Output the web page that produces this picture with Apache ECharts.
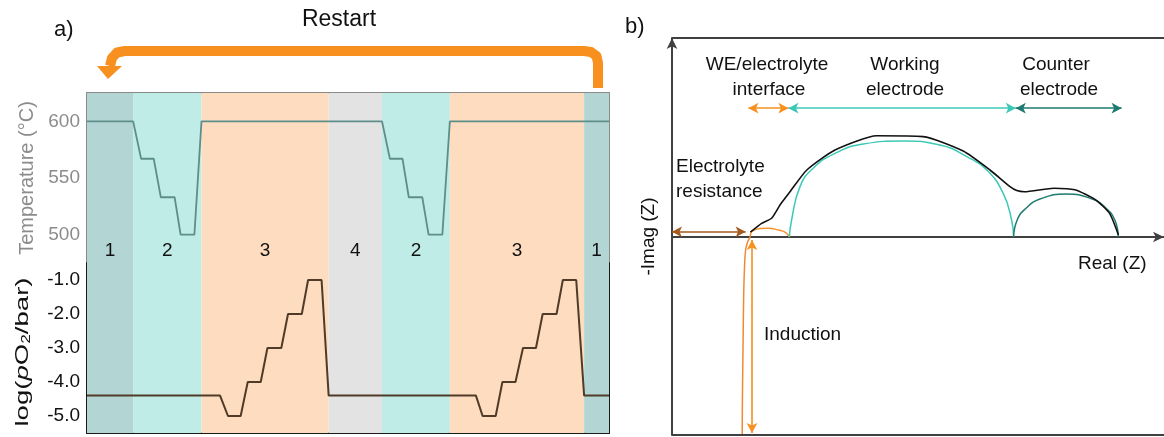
<!DOCTYPE html>
<html><head><meta charset="utf-8">
<script src="https://cdn.jsdelivr.net/npm/echarts@6/dist/echarts.min.js"></script>
<style>html,body{margin:0;padding:0;background:#fff}#c{width:1164px;height:437px}</style>
</head><body><div id="c"></div>
<script>
// ---------- panel a) data ----------
const regionNames = ['1', '2', '3', '4', '2', '3', '1'];
const regionStart = [0, 46.2, 114.6, 241.9, 295.3, 363.2, 497.6];
const regionEnd = [46.2, 114.6, 241.9, 295.3, 363.2, 497.6, 522.5];
const tempTime = [0, 46.2, 54.2, 66.8, 73.9, 87.7, 93.7, 107.5, 114.6, 295.3, 303.2, 315.8, 322.1, 335.6, 341.9, 355.7, 363.2, 522.5];
const tempValue = [600, 600, 567, 567, 533, 533, 500, 500, 600, 600, 567, 567, 533, 533, 500, 500, 600, 600];
const po2Time = [0, 133.2, 141.1, 153.8, 160.9, 173.9, 180.6, 194.5, 201.2, 215.0, 221.3, 234.8, 241.9, 389.3, 396.0, 409.1, 415.8, 428.9, 436.4, 449.4, 456.1, 470.0, 476.3, 489.7, 497.6, 522.5];
const po2Value = [-4.4, -4.4, -5, -5, -4, -4, -3, -3, -2, -2, -1, -1, -4.4, -4.4, -5, -5, -4, -4, -3, -3, -2, -2, -1, -1, -4.4, -4.4];
const tempTicks = [500, 550, 600];

// ---------- panel b) data ----------
const totalRe = [19.6, 22.4, 24.9, 27.0, 29.5, 33.7, 40.75, 51.2, 62.8, 72.8, 79.5, 84.5, 86.2, 88.1, 95.5, 100.7, 105.9, 109.4, 111.6];
const totalIm = [1.2, 3.4, 4.7, 8.0, 11.3, 16.75, 21.75, 25.3, 25.1, 21.5, 16.75, 12.6, 11.6, 11.3, 12.2, 11.8, 9.3, 5.9, 0.5];
const interfaceRe = [19.7, 20.3, 22.0, 24.1, 26.6, 28.25, 29.35];
const interfaceIm = [1.0, 1.6, 2.1, 2.2, 1.75, 1.2, 0];
const inductionRe = [17.55, 17.6, 17.75, 17.9, 18.1, 18.4, 18.9, 19.4, 19.7];
const inductionIm = [-49.5, -40.75, -28.25, -15.75, -8.25, -3.25, -1.25, -0.25, 1.0];
const workingRe = [29.35, 29.9, 32.0, 35.3, 40.75, 47.8, 57.8, 67.0, 73.7, 78.7, 82.8, 84.9, 85.4];
const workingIm = [0, 4.25, 12.6, 17.2, 20.9, 23.25, 24.0, 23.0, 20.1, 16.75, 10.9, 4.25, 0];
const counterRe = [85.4, 86.3, 88.5, 92.0, 98.55, 105.05, 108.5, 110.7, 111.6];
const counterIm = [0, 4.25, 7.2, 9.5, 10.75, 9.5, 7.2, 4.25, 0];
// arrow spans [x1, y1, x2, y2] in (Re, -Im) units
const resistanceArrow = [0, 1.3, 18.4, 1.3];
const inductionArrow = [20, -0.75, 20, -49];
const interfaceArrow = [19.1, 32.2, 29.1, 32.2];
const workingArrow = [29.1, 32.2, 85.95, 32.2];
const counterArrow = [85.95, 32.2, 112.4, 32.2];

// ---------- styles ----------
const FONT = 'Liberation Sans, Arial, sans-serif';
const regionColor = { '1': '#b3d6d4', '2': '#bfece6', '3': '#fddcbf', '4': '#e3e3e3' };
const GREY = '#8a8a8a', BLACK = '#1a1a1a', ORANGE = '#f7901e', BROWN = '#a45a1c',
      TEAL = '#3cc8b6', DTEAL = '#1d7a70', AX = '#404040';

const zip = (a, b) => a.map((v, i) => [v, b[i]]);
const areas = (withLabel) => regionNames.map((n, i) => [
  { xAxis: regionStart[i], name: n, itemStyle: { color: regionColor[n] },
    label: withLabel ? { show: true, position: 'insideBottom', distance: 3, formatter: n,
      color: '#111', fontSize: 19, fontFamily: FONT } : { show: false } },
  { xAxis: regionEnd[i] }
]);
const arrowItem = (a, color) => [
  { coord: [a[0], a[1]], lineStyle: { color, width: 1.6, type: 'solid' }, itemStyle: { color } },
  { coord: [a[2], a[3]] }
];

const chart = echarts.init(document.getElementById('c'), null, { renderer: 'canvas' });
const sideAxis = (grid, min, max, interval, color, pos, fmt, name, nameStyle) => ({
  type: 'value', gridIndex: grid, min, max, interval, position: pos,
  axisLine: { show: true, lineStyle: { color, width: 2 } },
  axisTick: { show: true, inside: true, length: 5, lineStyle: { color, width: 1.5 } },
  axisLabel: fmt ? { show: true, formatter: fmt, color: color === GREY ? '#8c8c8c' : '#111', fontSize: 19, fontFamily: FONT, margin: 7 } : { show: false },
  splitLine: { show: false },
  name: name || '', nameLocation: 'middle', nameGap: 50, nameTextStyle: nameStyle
});

chart.setOption({
  animation: false,
  grid: [
    { left: 87, top: 93, width: 522, height: 170 },
    { left: 87, top: 263, width: 522, height: 170 },
    { left: 672, top: 38, right: 0, height: 397 }
  ],
  xAxis: [
    { type: 'value', gridIndex: 0, min: 0, max: 522.5, position: 'top',
      axisLine: { show: true, lineStyle: { color: GREY, width: 2 } }, axisTick: { show: false }, axisLabel: { show: false }, splitLine: { show: false } },
    { type: 'value', gridIndex: 1, min: 0, max: 522.5, position: 'bottom',
      axisLine: { show: true, lineStyle: { color: BLACK, width: 2 } }, axisTick: { show: false }, axisLabel: { show: false }, splitLine: { show: false } },
    { type: 'value', gridIndex: 2, min: 0, max: 123,
      axisLine: { show: true, onZero: true, symbol: ['none', 'arrow'], symbolSize: [8, 11], lineStyle: { color: AX, width: 2 } },
      axisTick: { show: false }, axisLabel: { show: false }, splitLine: { show: false } }
  ],
  yAxis: [
    sideAxis(0, 475, 625, 25, GREY, 'left', v => tempTicks.includes(v) ? String(v) : '',
      'Temperature (°C)', { color: '#8c8c8c', fontSize: 20, fontFamily: FONT }),
    sideAxis(0, 475, 625, 25, GREY, 'right', null),
    sideAxis(1, -5.5, -0.5, 0.5, BLACK, 'left', v => (Math.abs(v - Math.round(v)) < 1e-9 && v <= -1) ? v.toFixed(1) : ''),
    sideAxis(1, -5.5, -0.5, 0.5, BLACK, 'right', null),
    { type: 'value', gridIndex: 2, min: -49.5, max: 49.75, position: 'left',
      axisLine: { show: true, onZero: false, symbol: ['none', 'arrow'], symbolSize: [8, 11], lineStyle: { color: AX, width: 2 } },
      axisTick: { show: false }, axisLabel: { show: false }, splitLine: { show: false },
      name: '-Imag (Z)', nameLocation: 'middle', nameGap: 14,
      nameTextStyle: { color: '#111', fontSize: 19, fontFamily: FONT } }
  ],
  series: [
    { type: 'line', xAxisIndex: 0, yAxisIndex: 0, data: zip(tempTime, tempValue), showSymbol: false, silent: true,
      lineStyle: { color: '#5e8e8a', width: 1.8 }, z: 3,
      markArea: { silent: true, data: areas(true) } },
    { type: 'line', xAxisIndex: 1, yAxisIndex: 2, data: zip(po2Time, po2Value), showSymbol: false, silent: true,
      lineStyle: { color: '#4f3b28', width: 2 }, z: 3,
      markArea: { silent: true, data: areas(false) } },
    // panel b
    { type: 'line', xAxisIndex: 2, yAxisIndex: 4, data: zip(inductionRe, inductionIm), showSymbol: false, silent: true,
      smooth: 0.4, lineStyle: { color: '#ee8a34', width: 1.5 } },
    { type: 'line', xAxisIndex: 2, yAxisIndex: 4, data: zip(interfaceRe, interfaceIm), showSymbol: false, silent: true,
      smooth: 0.5, lineStyle: { color: '#f5922e', width: 1.5 } },
    { type: 'line', xAxisIndex: 2, yAxisIndex: 4, data: zip(workingRe, workingIm), showSymbol: false, silent: true,
      smooth: 0.5, lineStyle: { color: TEAL, width: 1.5 } },
    { type: 'line', xAxisIndex: 2, yAxisIndex: 4, data: zip(counterRe, counterIm), showSymbol: false, silent: true,
      smooth: 0.5, lineStyle: { color: DTEAL, width: 1.5 } },
    { type: 'line', xAxisIndex: 2, yAxisIndex: 4, data: zip(totalRe, totalIm), showSymbol: false, silent: true,
      smooth: 0.2, lineStyle: { color: '#111', width: 1.6 },
      markLine: { silent: true, symbol: ['arrow', 'arrow'], symbolSize: [8, 10], label: { show: false },
        data: [
          arrowItem(resistanceArrow, BROWN),
          arrowItem(inductionArrow, ORANGE),
          arrowItem(interfaceArrow, ORANGE),
          arrowItem(workingArrow, TEAL),
          arrowItem(counterArrow, DTEAL)
        ] } },
    { type: 'line', xAxisIndex: 2, yAxisIndex: 4, data: [], silent: true,
      markLine: { silent: true, symbol: ['none', 'none'], label: { show: false },
        lineStyle: { color: AX, width: 2, type: 'solid' },
        data: [{ yAxis: 49.75 }, { yAxis: -49.5 }] } }
  ],
  graphic: [
    { type: 'text', x: 54, y: 30, style: { text: 'a)', fontSize: 22, fontFamily: FONT, fill: '#111', verticalAlign: 'middle' } },
    { type: 'text', x: 339, y: 20, style: { text: 'Restart', fontSize: 23, fontFamily: FONT, fill: '#111', align: 'center', verticalAlign: 'middle' } },
    { type: 'text', x: 625, y: 27, style: { text: 'b)', fontSize: 22, fontFamily: FONT, fill: '#111', verticalAlign: 'middle' } },
    { type: 'text', x: 23, y: 352, rotation: Math.PI / 2, scaleX: 1.45,
      style: { text: 'log({i|p}O{s|2}/bar)', fontSize: 19, fontFamily: FONT, fill: '#111', align: 'center', verticalAlign: 'middle',
        rich: { i: { fontStyle: 'italic', fontSize: 19, fontFamily: FONT, fill: '#111' },
                s: { fontSize: 12, fontFamily: FONT, fill: '#111', verticalAlign: 'bottom', padding: [8, 0, 0, 0] } } } },
    { type: 'polyline', shape: { points: [[598, 88], [598, 63], [596.5, 56], [591, 52], [584, 51], [125, 51], [117, 52.5], [112, 58], [110, 66]] },
      style: { fill: null, stroke: ORANGE, lineWidth: 10, lineJoin: 'round' } },
    { type: 'polygon', shape: { points: [[97, 66], [122, 66], [108, 79]] }, style: { fill: ORANGE } },
    { type: 'text', x: 767, y: 65, style: { text: 'WE/electrolyte', fontSize: 19, fontFamily: FONT, fill: '#111', align: 'center', verticalAlign: 'middle' } },
    { type: 'text', x: 769, y: 90, style: { text: 'interface', fontSize: 19, fontFamily: FONT, fill: '#111', align: 'center', verticalAlign: 'middle' } },
    { type: 'text', x: 905, y: 65, style: { text: 'Working', fontSize: 19, fontFamily: FONT, fill: '#111', align: 'center', verticalAlign: 'middle' } },
    { type: 'text', x: 905, y: 90, style: { text: 'electrode', fontSize: 19, fontFamily: FONT, fill: '#111', align: 'center', verticalAlign: 'middle' } },
    { type: 'text', x: 1056, y: 65, style: { text: 'Counter', fontSize: 19, fontFamily: FONT, fill: '#111', align: 'center', verticalAlign: 'middle' } },
    { type: 'text', x: 1059, y: 90, style: { text: 'electrode', fontSize: 19, fontFamily: FONT, fill: '#111', align: 'center', verticalAlign: 'middle' } },
    { type: 'text', x: 676, y: 167, style: { text: 'Electrolyte', fontSize: 19, fontFamily: FONT, fill: '#111', verticalAlign: 'middle' } },
    { type: 'text', x: 676, y: 192, style: { text: 'resistance', fontSize: 19, fontFamily: FONT, fill: '#111', verticalAlign: 'middle' } },
    { type: 'text', x: 764, y: 335, style: { text: 'Induction', fontSize: 19, fontFamily: FONT, fill: '#111', verticalAlign: 'middle' } },
    { type: 'text', x: 1078, y: 264, style: { text: 'Real (Z)', fontSize: 19, fontFamily: FONT, fill: '#111', verticalAlign: 'middle' } }
  ]
});
</script></body></html>
